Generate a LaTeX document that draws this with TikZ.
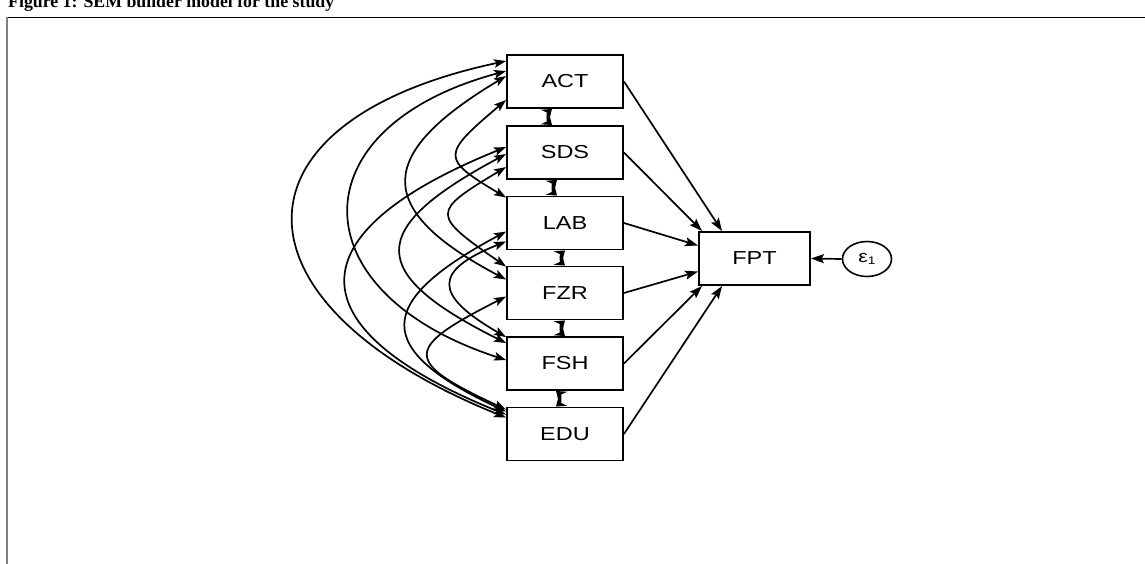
\documentclass[tikz,border=0pt]{standalone}
\usepackage{fontspec}
\setmainfont{Liberation Serif}
\newfontfamily\boxfont[FakeStretch=1.25]{Liberation Sans}
\usetikzlibrary{arrows.meta,calc,shapes.geometric}
\begin{document}
\begin{tikzpicture}[x=1pt,y=-1pt,
  var/.style={draw, line width=1.9pt, minimum width=116pt, minimum height=53pt, inner sep=0pt,
    font=\boxfont\fontsize{18.8}{20}\selectfont},
  pathar/.style={line width=1.7pt, -{Stealth[length=13pt,width=9pt,inset=2.5pt]}},
  cov/.style={line width=1.7pt, {Stealth[length=12pt,width=8.5pt,inset=2.5pt]}-{Stealth[length=12pt,width=8.5pt,inset=2.5pt]}},
  covs/.style={line width=1.7pt, {Stealth[length=9pt,width=13pt,inset=3pt]}-{Stealth[length=9pt,width=13pt,inset=3pt]}},
]
\useasboundingbox (0,0) rectangle (1145,564);
% title and frame
\node[anchor=base west, inner sep=0pt, font=\bfseries\fontsize{17.8}{20}\selectfont] (title) at (8,8) {Figure 1: SEM builder model for the study};
\coordinate (f1) at (7,17.5);
\coordinate (f2) at (1145,17.5);
\coordinate (f3) at (7,564);
\draw[line width=1.2pt] (f1) -- (f2);
\draw[gray, line width=1.2pt] (f1) -- (f3);
% nodes
\node[var] (ACT) at (565,81.5) {ACT};
\node[var] (SDS) at (565,152.5) {SDS};
\node[var] (LAB) at (565,223) {LAB};
\node[var] (FZR) at (565,293) {FZR};
\node[var] (FSH) at (565,363.5) {FSH};
\node[var] (EDU) at (565,434) {EDU};
\node[var, minimum width=111pt] (FPT) at (754.5,258.5) {FPT};
\node[draw, ellipse, line width=1.6pt, minimum width=49pt, minimum height=35pt, inner sep=0pt,
  font=\boxfont\fontsize{17}{18}\selectfont] (e1) at (867,259) {ε\raisebox{-1.5pt}{\fontsize{11}{11}\selectfont 1}};
% paths to FPT
\draw[pathar] (ACT.east) -- ($(FPT.north west)+(24,0)$);
\draw[pathar] (SDS.east) -- ($(FPT.north west)+(4,0)$);
\draw[pathar] (LAB.east) -- ($(FPT.west)+(0,-13)$);
\draw[pathar] (FZR.east) -- ($(FPT.west)+(0,13)$);
\draw[pathar] (FSH.east) -- ($(FPT.south west)+(4,0)$);
\draw[pathar] (EDU.east) -- ($(FPT.south west)+(24,0)$);
\draw[pathar] (e1.west) -- (FPT.east);
% adjacent covariances
\draw[covs] ($(ACT.south)+(-13,0)$) to[bend right=50] ($(SDS.north)+(-13,0)$);
\draw[covs] ($(SDS.south)+(-8,0)$) to[bend right=50] ($(LAB.north)+(-8,0)$);
\draw[covs] ($(LAB.south)+(0,0)$) to[bend right=50] ($(FZR.north)+(0,0)$);
\draw[covs] ($(FZR.south)+(0,0)$) to[bend right=50] ($(FSH.north)+(0,0)$);
\draw[covs] ($(FSH.south)+(-9,0)$) to[bend left=50] ($(EDU.north)+(-9,0)$);
% long covariances
\draw[cov] ($(ACT.north west)+(0,7)$) .. controls +(-283,60) and +(-283,-114) .. ($(EDU.north west)+(0,11)$);
\draw[cov] ($(ACT.north west)+(0,17)$) .. controls +(-209,56) and +(-209,-68) .. ($(FSH.north west)+(0,24)$);
\draw[cov] ($(ACT.north west)+(0,22)$) .. controls +(-132,79) and +(-132,-70) .. ($(FZR.north west)+(0,14)$);
\draw[cov] ($(ACT.north west)+(0,46)$) .. controls +(-65,55) and +(-65,-39) .. ($(LAB.north west)+(0,2)$);
\draw[cov] ($(SDS.north west)+(0,22)$) .. controls +(-213,86) and +(-213,-86) .. ($(EDU.north west)+(0,8)$);
\draw[cov] ($(SDS.north west)+(0,29)$) .. controls +(-140,75) and +(-140,-70) .. ($(FSH.north west)+(0,7)$);
\draw[cov] ($(SDS.north west)+(0,42)$) .. controls +(-75,45) and +(-75,-52) .. ($(FZR.north west)+(0,1)$);
\draw[cov] ($(LAB.north west)+(0,36)$) .. controls +(-133,71) and +(-133,-62) .. ($(EDU.north west)+(0,5)$);
\draw[cov] ($(LAB.north west)+(0,46)$) .. controls +(-73,29) and +(-73,-42) .. ($(FSH.north west)+(0,1)$);
\draw[cov] ($(FZR.north west)+(0,31)$) .. controls +(-103,52) and +(-103,-48) .. ($(EDU.north west)+(0,3)$);
\end{tikzpicture}
\end{document}
